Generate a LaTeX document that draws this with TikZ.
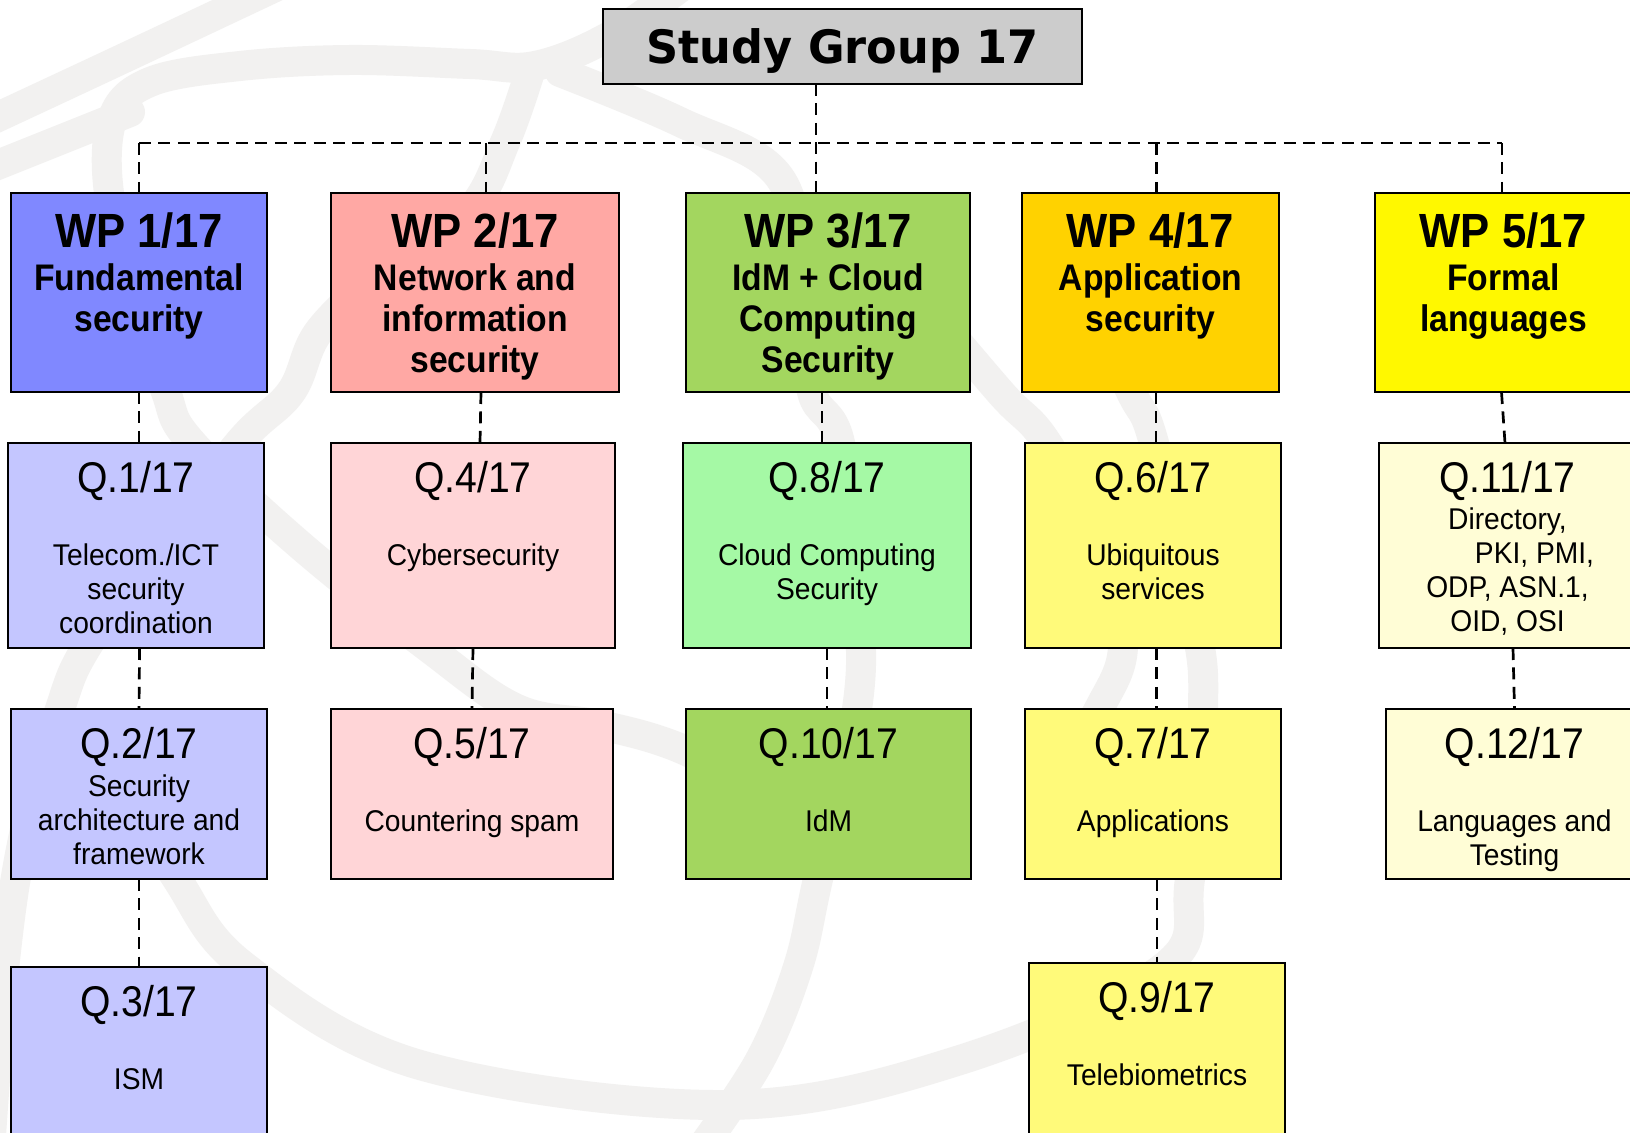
\documentclass[tikz,border=0pt]{standalone}
\usepackage{fontspec}
\setmainfont{Liberation Sans}
\newfontfamily\tfont{DejaVu Sans}[FakeStretch=0.97]
\newfontfamily\nfont{Liberation Sans}[FakeStretch=0.91]
\newfontfamily\bfont{Liberation Sans}[FakeStretch=0.94]
\definecolor{titlegray}{HTML}{CCCCCC}
\definecolor{wpA}{HTML}{8088FF}
\definecolor{wpB}{HTML}{FFA8A4}
\definecolor{wpC}{HTML}{A3D65F}
\definecolor{wpD}{HTML}{FFD200}
\definecolor{wpE}{HTML}{FFF800}
\definecolor{qA}{HTML}{C4C6FF}
\definecolor{qB}{HTML}{FFD5D7}
\definecolor{qC}{HTML}{A5F9A5}
\definecolor{qD}{HTML}{FFFA7A}
\definecolor{qE}{HTML}{FFFDD6}
\definecolor{wm}{HTML}{F2F1F0}
\newcommand\ml[1]{\begin{tabular}[t]{@{}c@{}}#1\end{tabular}}
\newcommand\mkbox[6]{\node[box, fill=#6, minimum width={0.5pt*(#4-#2)}, minimum height={0.5pt*(#5-#3)}] (#1) at ({(#2+#4)/2},{(#3+#5)/2}) {};}
\tikzset{
  box/.style={draw=black, line width=1pt, inner sep=0pt, outer sep=0pt},
  conn/.style={draw=black, line width=1.35pt, dash pattern=on 6pt off 3.7pt},
  wmark/.style={draw=wm, line width=15pt, line cap=round},
  titletext/.style={font=\tfont\bfseries\fontsize{23pt}{26pt}\selectfont, anchor=base, inner sep=0pt},
  wphead/.style={font=\nfont\bfseries\fontsize{24pt}{26pt}\selectfont, anchor=base, inner sep=0pt},
  wpsub/.style={font=\nfont\bfseries\fontsize{18.5pt}{20.5pt}\selectfont, anchor=base, inner sep=0pt},
  qhead/.style={font=\nfont\fontsize{21.5pt}{24pt}\selectfont, anchor=base, inner sep=0pt},
  qbody/.style={font=\bfont\fontsize{15pt}{17pt}\selectfont, anchor=base, inner sep=0pt}
}
\begin{document}
\begin{tikzpicture}[x=0.5pt, y=-0.5pt]
\useasboundingbox (0,0) rectangle (1630,1133);
\fill[white] (0,0) rectangle (1630,1133);
\clip (0,0) rectangle (1630,1133);
% watermark (faint globe logo)
\draw[wmark] plot[smooth, tension=0.7] coordinates {(-30,130) (120,60) (290,-20)};
\draw[wmark] (-20,172) -- (130,112);
\draw[wmark] plot[smooth, tension=0.6] coordinates {(830,800) (760,785) (672,745) (600,725) (517,709) (429,648) (300,545) (192,443) (166,392) (140,300) (110,200) (112,120) (150,82) (240,66) (350,60) (470,64) (535,66) (610,36) (690,-20)};
\draw[wmark] plot[smooth, tension=0.6] coordinates {(529,75) (506,140) (470,210) (390,265) (320,330) (291,392) (239,443) (150,560) (86,648) (60,709) (25,830) (5,960) (-10,1150)};
\draw[wmark] plot[smooth, tension=0.6] coordinates {(560,72) (680,122) (780,178) (805,300) (812,392) (840,443) (858,600) (857,709) (818,879) (798,967) (760,1060) (700,1150)};
\draw[wmark] plot[smooth, tension=0.6] coordinates {(110,760) (177,879) (245,967) (420,1065) (725,1105) (960,1060) (1164,967) (1190,879) (1203,709) (1195,620) (1154,443) (1131,392) (1080,290) (1040,230)};
\draw[wmark] plot[smooth, tension=0.6] coordinates {(905,280) (1000,392) (1047,443) (1110,560) (1123,648) (1099,709) (1050,790)};
% boxes
\node[box, fill=titlegray, minimum width={0.5pt*479}, minimum height={0.5pt*75}] (title) at (842.5,46.5) {};
\node[titletext] (titlet) at ([yshift=-27.5pt]title.north) {Study Group 17};
\coordinate (bus) at (0,143);

\mkbox{wp1}{11}{193}{267}{392}{wpA}
\mkbox{wp2}{331}{193}{619}{392}{wpB}
\mkbox{wp3}{686}{193}{970}{392}{wpC}
\mkbox{wp4}{1022}{193}{1279}{392}{wpD}
\mkbox{wp5}{1375}{193}{1632}{392}{wpE}

\mkbox{q1}{8}{443}{264}{648}{qA}
\mkbox{q4}{331}{443}{615}{648}{qB}
\mkbox{q8}{683}{443}{971}{648}{qC}
\mkbox{q6}{1025}{443}{1281}{648}{qD}
\mkbox{q11}{1379}{443}{1636}{648}{qE}

\mkbox{q2}{11}{709}{267}{879}{qA}
\mkbox{q5}{331}{709}{613}{879}{qB}
\mkbox{q10}{686}{709}{971}{879}{wpC}
\mkbox{q7}{1025}{709}{1281}{879}{qD}
\mkbox{q12}{1386}{709}{1643}{879}{qE}

\mkbox{q3}{11}{967}{267}{1150}{qA}
\mkbox{q9}{1029}{963}{1285}{1150}{qD}

% WP texts
\foreach \n/\t in {wp1/WP 1\slash 17, wp2/WP 2\slash 17, wp3/WP 3\slash 17, wp4/WP 4\slash 17, wp5/WP 5\slash 17}
  \node[wphead] (\n h) at ([yshift=-27.5pt]\n.north) {\t};
\node[wpsub] (wp1s) at ([yshift=-49pt]wp1.north) {\ml{Fundamental\\security}};
\node[wpsub] (wp2s) at ([yshift=-49pt]wp2.north) {\ml{Network and\\information\\security}};
\node[wpsub] (wp3s) at ([yshift=-49pt]wp3.north) {\ml{IdM + Cloud\\Computing\\Security}};
\node[wpsub] (wp4s) at ([yshift=-49pt]wp4.north) {\ml{Application\\security}};
\node[wpsub] (wp5s) at ([yshift=-49pt]wp5.north) {\ml{Formal\\languages}};

% Q texts
\foreach \n/\t in {q1/1, q2/2, q3/3, q4/4, q5/5, q6/6, q7/7, q8/8, q9/9, q10/10, q11/11, q12/12}
  \node[qhead] (\n h) at ([yshift=-25pt]\n.north) {Q.\t/17};
\node[qbody] (q1b) at ([yshift=-61.5pt]q1.north) {\ml{Telecom./ICT\\security\\coordination}};
\node[qbody] (q2b) at ([yshift=-44pt]q2.north) {\ml{Security\\architecture and\\framework}};
\node[qbody] (q3b) at ([yshift=-61.5pt]q3.north) {ISM};
\node[qbody] (q4b) at ([yshift=-61.5pt]q4.north) {Cybersecurity};
\node[qbody] (q5b) at ([yshift=-61.5pt]q5.north) {Countering spam};
\node[qbody] (q8b) at ([yshift=-61.5pt]q8.north) {\ml{Cloud Computing\\Security}};
\node[qbody] (q10b) at ([yshift=-61.5pt]q10.north) {IdM};
\node[qbody] (q6b) at ([yshift=-61.5pt]q6.north) {\ml{Ubiquitous\\services}};
\node[qbody] (q7b) at ([yshift=-61.5pt]q7.north) {Applications};
\node[qbody] (q9b) at ([yshift=-61.5pt]q9.north) {Telebiometrics};
\node[qbody] (q11b) at ([yshift=-43.5pt]q11.north) {\ml{Directory,\\\hspace*{27pt}PKI, PMI,\\ODP, ASN.1,\\OID, OSI}};
\node[qbody] (q12b) at ([yshift=-61.5pt]q12.north) {\ml{Languages and\\Testing}};

% connectors
\draw[conn] ([xshift=-13.25pt]title.south) -- ([xshift=-6pt]wp3.north);
\draw[conn] (wp1.north |- bus) -- ([xshift=-0.75pt]wp5.north |- bus);
\draw[conn] (wp1.north |- bus) -- (wp1.north);
\draw[conn] ([xshift=5.5pt]wp2.north |- bus) -- ([xshift=5.5pt]wp2.north);
\draw[conn] ([xshift=3pt]wp4.north |- bus) -- ([xshift=3pt]wp4.north);
\draw[conn] ([xshift=-0.75pt]wp5.north |- bus) -- ([xshift=-0.75pt]wp5.north);

\draw[conn] (wp1.south) -- (wp1.south |- q1.north);
\draw[conn] ([xshift=3pt]wp2.south) -- ([xshift=3.5pt]q4.north);
\draw[conn] ([xshift=-3pt]wp3.south) -- ([xshift=-2.5pt]q8.north);
\draw[conn] ([xshift=2.75pt]wp4.south) -- ([xshift=1.5pt]q6.north);
\draw[conn] ([xshift=-1pt]wp5.south) -- ([xshift=-1.25pt]q11.north);

\draw[conn] ([xshift=1.8pt]q1.south) -- (q2.north);
\draw[conn] (q4.south) -- (q5.north);
\draw[conn] (q8.south) -- ([xshift=-0.75pt]q10.north);
\draw[conn] ([xshift=1.75pt]q6.south) -- ([xshift=1.75pt]q7.north);
\draw[conn] ([xshift=2.75pt]q11.south) -- (q12.north);
\draw[conn] (q2.south) -- (q3.north);
\draw[conn] ([xshift=2pt]q7.south) -- (q9.north);
\end{tikzpicture}
\end{document}
